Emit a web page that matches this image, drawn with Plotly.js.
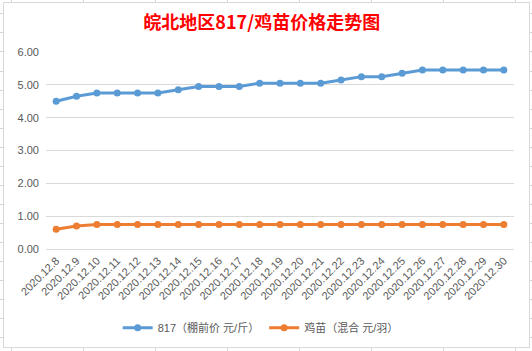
<!DOCTYPE html>
<html>
<head>
<meta charset="utf-8">
<script src="https://cdn.plot.ly/plotly-3.0.1.min.js"></script>
<style>
html,body{margin:0;padding:0;background:#fff;}
#wrap{position:relative;width:532px;height:351px;overflow:hidden;background:#fff;}
#frame{position:absolute;left:3px;top:2px;width:527px;height:346px;box-sizing:border-box;border:1px solid #d9d9d9;background:#fff;}
#chart{position:absolute;left:0;top:0;width:532px;height:351px;}
.tk{position:absolute;background:#d6d6d6;}
</style>
</head>
<body>
<div id="wrap"><div id="frame"></div><div id="chart"></div></div>
<script>
// ---- data ----
const dates = ["2020.12.8","2020.12.9","2020.12.10","2020.12.11","2020.12.12","2020.12.13","2020.12.14","2020.12.15","2020.12.16","2020.12.17","2020.12.18","2020.12.19","2020.12.20","2020.12.21","2020.12.22","2020.12.23","2020.12.24","2020.12.25","2020.12.26","2020.12.27","2020.12.28","2020.12.29","2020.12.30"];
const price817 = [4.5,4.65,4.75,4.75,4.75,4.75,4.85,4.95,4.95,4.95,5.05,5.05,5.05,5.05,5.15,5.25,5.25,5.35,5.45,5.45,5.45,5.45,5.45];
const chickPrice = [0.6,0.7,0.75,0.75,0.75,0.75,0.75,0.75,0.75,0.75,0.75,0.75,0.75,0.75,0.75,0.75,0.75,0.75,0.75,0.75,0.75,0.75,0.75];
const seriesNames = ["817（棚前价 元/斤）","鸡苗（混合 元/羽）"];
const yTicks = [0,1,2,3,4,5,6];
const titleText = "皖北地区817/鸡苗价格走势图";

// ---- spreadsheet grid decoration outside the chart frame ----
const wrap = document.getElementById('wrap');
function tick(l,t,w,h){const d=document.createElement('div');d.className='tk';d.style.left=l+'px';d.style.top=t+'px';d.style.width=w+'px';d.style.height=h+'px';wrap.insertBefore(d,wrap.firstChild);}
for(let k=0;k<18;k++){const y=Math.round(13.3+19.07*k);tick(0,y,3,1);tick(530,y,2,1);}
for(let k=0;k<8;k++){const x=Math.round(10.7+72*k);tick(x,0,1,2);tick(x,348,1,3);}

const fontFam = "Liberation Sans, Arial, Noto Sans CJK SC, sans-serif";
const traces = [
  {x:dates,y:price817,name:seriesNames[0],type:'scatter',mode:'lines+markers',
   line:{color:'#5B9BD5',width:3},marker:{color:'#5B9BD5',size:7}},
  {x:dates,y:chickPrice,name:seriesNames[1],type:'scatter',mode:'lines+markers',
   line:{color:'#ED7D31',width:3},marker:{color:'#ED7D31',size:7}}
];
const layout = {
  width:532,height:351,
  margin:{l:46,r:18,t:52,b:102},
  paper_bgcolor:'rgba(0,0,0,0)',plot_bgcolor:'rgba(0,0,0,0)',
  font:{family:fontFam,color:'#595959',size:11},
  title:{text:'<b>'+titleText+'</b>',font:{family:"Noto Sans CJK SC, sans-serif",size:18,color:'#FF0000'},
         x:0.492,xanchor:'center',xref:'container',y:1-22.7/351,yanchor:'middle',yref:'container'},
  xaxis:{type:'category',range:[-0.5,dates.length-0.5],tickangle:-45,showgrid:false,
         showline:true,linecolor:'#d9d9d9',linewidth:1,ticks:'',
         tickfont:{size:11,color:'#595959'},fixedrange:true},
  yaxis:{range:[0,6],tickvals:yTicks,tickformat:'.2f',showgrid:true,gridcolor:'#d9d9d9',gridwidth:1,
         zeroline:false,showline:false,ticks:'',ticklabelstandoff:6,
         tickfont:{size:11,color:'#595959'},fixedrange:true},
  showlegend:true,
  legend:{orientation:'h',x:0.49,xanchor:'center',xref:'container',y:1-327.7/351,yanchor:'middle',yref:'container',
          font:{size:11,color:'#595959'},bgcolor:'rgba(0,0,0,0)'}
};
Plotly.newPlot('chart',traces,layout,{displayModeBar:false,staticPlot:true});
</script>
</body>
</html>
